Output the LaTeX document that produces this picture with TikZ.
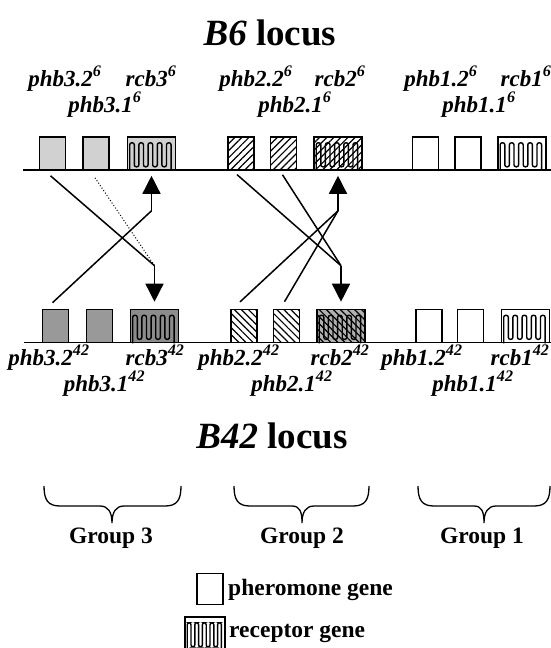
\documentclass[tikz,border=0pt]{standalone}
\usepackage{fontspec}
\setmainfont{Liberation Serif}
\usetikzlibrary{arrows.meta,patterns.meta,calc}
\newcommand\mymeander[2]{%
\draw[line width=1.4pt,rounded corners=2pt] ($(#1.south west)+(3,0)$) -- ++(0,-28) -- ++(#2,0) -- ++(0,24) -- ++(#2,0) -- ++(0,-24) -- ++(#2,0) -- ++(0,24) -- ++(#2,0) -- ++(0,-24) -- ++(#2,0) -- ++(0,24) -- ++(#2,0) -- ++(0,-24) -- ++(#2,0) -- ++(0,24) -- ++(#2,0) -- ++(0,-24) -- ++(#2,0) -- ++(0,28);}
\begin{document}
\begin{tikzpicture}[x=1pt,y=-1pt,
  box/.style={draw,line width=1.6pt,inner sep=0pt,minimum height=33pt,minimum width=26pt},
  rbox/.style={box,minimum width=48pt},
  lab/.style={font=\fontsize{23}{23}\selectfont\bfseries\itshape,inner sep=0pt,anchor=base},
  ttl/.style={font=\fontsize{37}{37}\selectfont\bfseries,inner sep=0pt},
  grp/.style={font=\fontsize{23.5}{23.5}\selectfont\bfseries,inner sep=0pt},
  link/.style={line width=1.5pt},
  arr/.style={link,-{Triangle[width=18pt,length=18pt]}},
  hne/.style={pattern={Lines[angle=45,distance=5pt,line width=1.2pt]}},
  hnw/.style={pattern={Lines[angle=-45,distance=5pt,line width=1.2pt]}},
  brc/.style={line width=1.3pt}]
\useasboundingbox (0,0) rectangle (551,648);
% titles
\node[ttl] (t6) at (270,33) {\textit{B6} locus};
\node[ttl] (t42) at (272,436) {\textit{B42} locus};
% top boxes
\node[box,fill=black!18] (t32) at (52.5,153.5) {};
\node[box,fill=black!18] (t31) at (96,153.5) {};
\node[rbox,fill=black!18] (r3t) at (151.5,153.5) {};
\node[box,hne] (t22) at (241,153.5) {};
\node[box,hne] (t21) at (283.5,153.5) {};
\node[rbox,hne] (r2t) at (338,153.5) {};
\node[box] (t12) at (425.5,153.5) {};
\node[box] (t11) at (468,153.5) {};
\node[rbox] (r1t) at (522,153.5) {};
\mymeander{r3t}{4.6}
\mymeander{r2t}{4.6}
\mymeander{r1t}{4.6}
\coordinate (ta) at (23,170); \coordinate (tb) at (551,170);
\draw[line width=1.8pt] (ta) -- (tb);
% bottom boxes
\node[box,fill=black!40] (b32) at (55.5,326) {};
\node[box,fill=black!40] (b31) at (99.5,326) {};
\node[rbox,fill=black!45] (r3b) at (154.5,326) {};
\node[box,hnw] (b22) at (244,326) {};
\node[box,hnw] (b21) at (286.5,326) {};
\node[rbox,preaction={fill=black!30},hnw] (r2b) at (341,326) {};
\node[box] (b12) at (429,326) {};
\node[box] (b11) at (470.5,326) {};
\node[rbox] (r1b) at (525.5,326) {};
\mymeander{r3b}{4.6}
\mymeander{r2b}{4.6}
\mymeander{r1b}{4.6}
\coordinate (ba) at (24,342.5); \coordinate (bb) at (551,342.5);
\draw[line width=1.8pt] (ba) -- (bb);
% top labels
\node[lab] (l32t) at (65,86) {phb3.2\textsuperscript{6}};
\node[lab] (l3rt) at (151,86) {rcb3\textsuperscript{6}};
\node[lab] (l31t) at (105,112) {phb3.1\textsuperscript{6}};
\node[lab] (l22t) at (256,86) {phb2.2\textsuperscript{6}};
\node[lab] (l2rt) at (340,86) {rcb2\textsuperscript{6}};
\node[lab] (l21t) at (295,112) {phb2.1\textsuperscript{6}};
\node[lab] (l12t) at (441,86) {phb1.2\textsuperscript{6}};
\node[lab] (l1rt) at (526,86) {rcb1\textsuperscript{6}};
\node[lab] (l11t) at (479,112) {phb1.1\textsuperscript{6}};
% bottom labels
\node[lab] (l32b) at (49,365) {phb3.2\textsuperscript{42}};
\node[lab] (l3rb) at (155,365) {rcb3\textsuperscript{42}};
\node[lab] (l31b) at (104.5,391) {phb3.1\textsuperscript{42}};
\node[lab] (l22b) at (239,365) {phb2.2\textsuperscript{42}};
\node[lab] (l2rb) at (340,365) {rcb2\textsuperscript{42}};
\node[lab] (l21b) at (292,391) {phb2.1\textsuperscript{42}};
\node[lab] (l12b) at (422,365) {phb1.2\textsuperscript{42}};
\node[lab] (l1rb) at (520,365) {rcb1\textsuperscript{42}};
\node[lab] (l11b) at (473,391) {phb1.1\textsuperscript{42}};
% connectors
\coordinate (j3u) at ($(r3t.south)+(0,40)$);
\coordinate (j3d) at ($(r3b.north)+(0,-43)$);
\coordinate (j2u) at ($(r2t.south)+(0,40)$);
\coordinate (j2d) at ($(r2b.north)+(0,-43)$);
\draw[arr] (j3u) -- ($(r3t.south)+(0,5)$);
\draw[arr] (j3d) -- ($(r3b.north)+(0,-7)$);
\draw[arr] (j2u) -- ($(r2t.south)+(0,5)$);
\draw[arr] (j2d) -- ($(r2b.north)+(0,-7)$);
\draw[link] ($(b32.north)+(-3,-6)$) -- (j3u);
\draw[link] ($(t32.south)+(-2,5)$) -- (j3d);
\draw[line width=1pt,dotted] ($(t31.south)+(-1,7)$) -- (j3d);
\draw[link] ($(b22.north)+(-4,-7)$) -- (j2u);
\draw[link] ($(b21.north)+(-2,-7)$) -- (j2u);
\draw[link] ($(t22.south)+(-4,4)$) -- (j2d);
\draw[link] ($(t21.south)+(-1,4)$) -- (j2d);
% braces
\draw[brc] (44,486) .. controls (44,500) and (48,506) .. (60,506) -- (100,506) .. controls (108,506) and (112,512) .. (112,523) .. controls (112,512) and (116,506) .. (124,506) -- (165,506) .. controls (177,506) and (181,500) .. (181,486);
\draw[brc] (234,486) .. controls (234,500) and (238,506) .. (250,506) -- (292,506) .. controls (300,506) and (302,512) .. (302,523) .. controls (302,512) and (306,506) .. (314,506) -- (353,506) .. controls (365,506) and (369,500) .. (369,486);
\draw[brc] (418,486) .. controls (418,500) and (422,506) .. (434,506) -- (474,506) .. controls (482,506) and (484,512) .. (484,523) .. controls (484,512) and (488,506) .. (496,506) -- (534,506) .. controls (546,506) and (550,500) .. (550,486);
\node[grp] (g3) at (111,538) {Group 3};
\node[grp] (g2) at (302,538) {Group 2};
\node[grp] (g1) at (482,538) {Group 1};
% legend
\node[box,minimum height=31pt] (lp) at (210,589) {};
\node[grp,anchor=west] (lpt) at (228,590) {pheromone gene};
\node[rbox,minimum width=40pt] (lr) at (205,633.5) {};
\mymeander{lr}{3.8}
\node[grp,anchor=west] (lrt) at (229,633) {receptor gene};
\end{tikzpicture}
\end{document}
